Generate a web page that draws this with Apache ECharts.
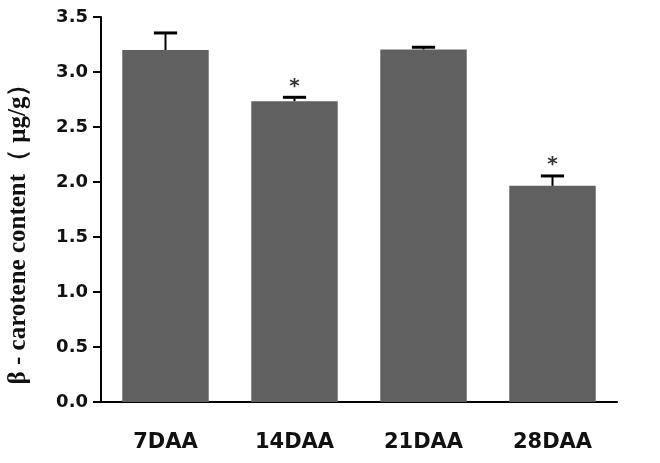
<!DOCTYPE html>
<html>
<head>
<meta charset="utf-8">
<script src="https://cdn.jsdelivr.net/npm/echarts@6/dist/echarts.min.js"></script>
<style>
  html, body { margin: 0; padding: 0; background: #fff; }
  #chart { width: 660px; height: 463px; }
</style>
</head>
<body>
<div id="chart"></div>
<script>
// data
const categories = ['7DAA', '14DAA', '21DAA', '28DAA'];
const values = [3.20, 2.735, 3.205, 1.965];
const errors = [0.155, 0.035, 0.02, 0.09];
const marks = ['', '*', '', '*'];
const yTicks = [0, 0.5, 1.0, 1.5, 2.0, 2.5, 3.0, 3.5];

const chart = echarts.init(document.getElementById('chart'));

const errData = values.map((v, i) => [i, v, errors[i]]);
const starData = values.map((v, i) => [i, v + errors[i], marks[i]]);

const option = {
    animation: false,
    backgroundColor: '#fff',
    grid: { left: 101, right: 43, top: 17, bottom: 61 },
    xAxis: {
        type: 'category',
        data: categories,
        axisLine: { lineStyle: { color: '#000', width: 2 } },
        axisTick: { alignWithLabel: true, length: 8, lineStyle: { color: '#000', width: 2 } },
        axisLabel: {
            margin: 30,
            color: '#111',
            fontFamily: 'DejaVu Sans',
            fontWeight: 'bold',
            fontSize: 21
        }
    },
    yAxis: {
        type: 'value',
        min: yTicks[0],
        max: yTicks[yTicks.length - 1],
        interval: 0.5,
        splitLine: { show: false },
        axisLine: { show: true, lineStyle: { color: '#000', width: 2 } },
        axisTick: { show: true, length: 8, lineStyle: { color: '#000', width: 2 } },
        axisLabel: {
            margin: 13,
            color: '#111',
            fontFamily: 'DejaVu Sans',
            fontWeight: 'bold',
            fontSize: 18,
            formatter: v => v.toFixed(1)
        }
    },
    graphic: [{
        type: 'text',
        x: 19,
        y: 228,
        rotation: Math.PI / 2,
        style: {
            text: 'β - carotene content（ μg/g）',
            fontFamily: 'Liberation Serif',
            fontWeight: 'bold',
            fontSize: 25,
            fill: '#111',
            align: 'center',
            verticalAlign: 'middle'
        }
    }],
    series: [
        {
            type: 'bar',
            data: values,
            barWidth: '67%',
            itemStyle: { color: '#606060' },
            z: 2
        },
        {
            type: 'custom',
            data: errData,
            z: 3,
            renderItem: (params, api) => {
                const i = api.value(0);
                const top = api.coord([i, api.value(1) + api.value(2)]);
                const base = api.coord([i, api.value(1)]);
                const half = api.size([1, 0])[0] * 0.09;
                return {
                    type: 'group',
                    children: [
                        { type: 'line', shape: { x1: base[0], y1: base[1], x2: top[0], y2: top[1] },
                          style: { stroke: '#000', lineWidth: 2 } },
                        { type: 'line', shape: { x1: top[0] - half, y1: top[1], x2: top[0] + half, y2: top[1] },
                          style: { stroke: '#000', lineWidth: 3 } }
                    ]
                };
            }
        },
        {
            type: 'custom',
            data: starData,
            z: 4,
            renderItem: (params, api) => {
                const p = api.coord([api.value(0), api.value(1)]);
                return {
                    type: 'text',
                    x: p[0],
                    y: p[1] - 1,
                    style: {
                        text: starData[params.dataIndex][2],
                        fontFamily: 'DejaVu Sans',
                        fontWeight: 'bold',
                        fontSize: 20,
                        fill: '#333',
                        align: 'center',
                        verticalAlign: 'bottom'
                    }
                };
            }
        }
    ]
};

chart.setOption(option);
</script>
</body>
</html>
